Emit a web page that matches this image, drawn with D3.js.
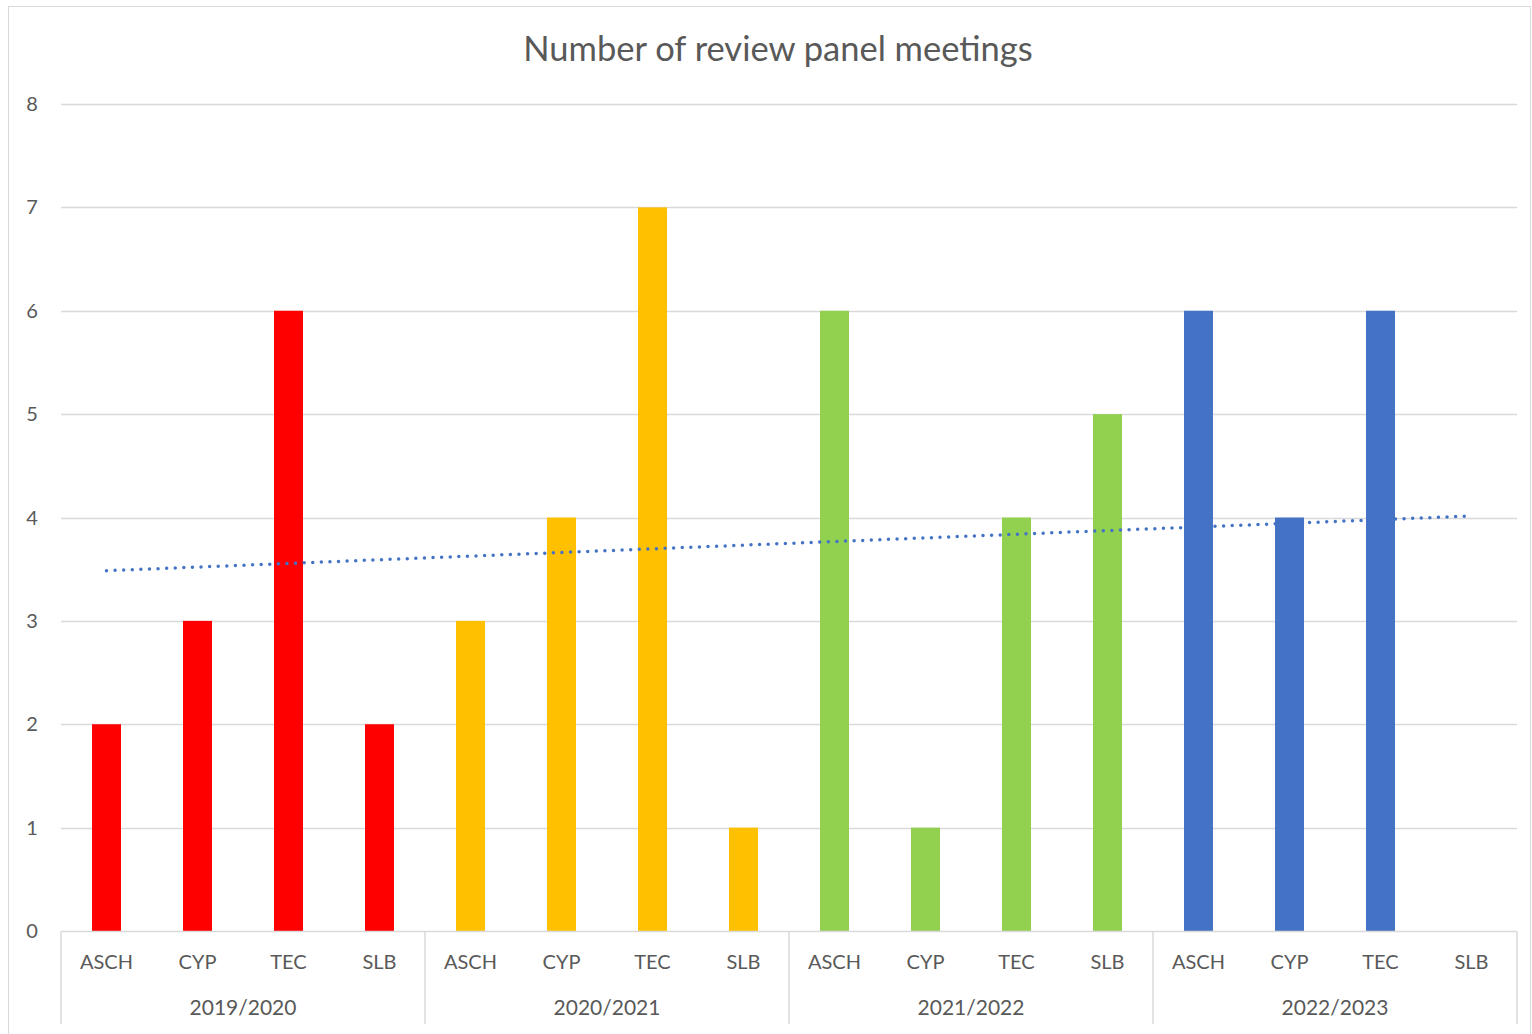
<!DOCTYPE html>
<html>
<head>
<meta charset="utf-8">
<script src="https://cdn.jsdelivr.net/npm/d3@7"></script>
<style>
	body{margin:0;background:#fff;}
	svg text{font-family:Lato, "Open Sans", sans-serif;fill:#595959;}
</style>
</head>
<body>
<svg id="chart"></svg>
<script>
const years = ['2019/2020','2020/2021','2021/2022','2022/2023'];
const units = ['ASCH','CYP','TEC','SLB'];
const yearColors = ['#FF0000','#FFC000','#92D050','#4472C4'];
const meetings2019 = [2,3,6,2];
const meetings2020 = [3,4,7,1];
const meetings2021 = [6,1,4,5];
const meetings2022 = [6,4,6,0];
const yTicks = [0,1,2,3,4,5,6,7,8];

const W = 1532, H = 1034;
const margin = {left:61, right:15, top:104, bottom:103};

const svg = d3.select('#chart').attr('width',W).attr('height',H);

// border
svg.append('rect')
	.attr('x',8.5).attr('y',6.5)
	.attr('width',W-10).attr('height',H)
	.attr('fill','none').attr('stroke','#d9d9d9');

svg.append('text')
	.attr('x',778).attr('y',61)
	.attr('text-anchor','middle')
	.style('font-size','34.5px')
	.text('Number of review panel meetings');

const allVals = [meetings2019,meetings2020,meetings2021,meetings2022];
const data = [];
allVals.forEach((arr,yi)=>{
	arr.forEach((v,ui)=>{
		data.push({year:years[yi],unit:units[ui],value:v,color:yearColors[yi],key:years[yi]+'|'+units[ui]});
	})
})

const x = d3.scaleBand()
	.domain(data.map(d=>d.key))
	.range([margin.left, W-margin.right]);
const y = d3.scaleLinear()
	.domain([0,8])
	.range([H-margin.bottom, margin.top]);

// gridlines
svg.append('g')
	.selectAll('line')
	.data(yTicks.filter(t=>t>0))
	.join('line')
		.attr('x1',margin.left).attr('x2',W-margin.right)
		.attr('y1',d=>Math.round(y(d))+0.5).attr('y2',d=>Math.round(y(d))+0.5)
		.attr('stroke','#d9d9d9').attr('stroke-width',1.5);

svg.append('g')
	.selectAll('text')
	.data(yTicks)
	.join('text')
		.attr('x',32).attr('y',d=>y(d)+7)
		.attr('text-anchor','middle')
		.style('font-size','20px')
		.text(d=>d);

// bars
const barW = 29;
svg.append('g')
	.selectAll('rect')
	.data(data)
	.join('rect')
		.attr('x',d=>x(d.key)+x.bandwidth()/2-barW/2)
		.attr('y',d=>y(d.value))
		.attr('width',barW)
		.attr('height',d=>y(0)-y(d.value))
		.attr('fill',d=>d.color);

// category axis
const y0 = Math.round(y(0))+0.5;
svg.append('line')
	.attr('x1',margin.left).attr('x2',W-margin.right)
	.attr('y1',y0).attr('y2',y0)
	.attr('stroke','#d9d9d9').attr('stroke-width',1.5);

const groupW = x.bandwidth()*units.length;
svg.append('g')
	.selectAll('line')
	.data(d3.range(years.length+1))
	.join('line')
		.attr('x1',i=>margin.left+i*groupW).attr('x2',i=>margin.left+i*groupW)
		.attr('y1',y0).attr('y2',1024)
		.attr('stroke','#d9d9d9').attr('stroke-width',1.5);

svg.append('g')
	.selectAll('text')
	.data(data)
	.join('text')
		.attr('x',d=>x(d.key)+x.bandwidth()/2)
		.attr('y',969)
		.attr('text-anchor','middle')
		.style('font-size','20px')
		.text(d=>d.unit);

svg.append('g')
	.selectAll('text')
	.data(years)
	.join('text')
		.attr('x',(d,i)=>margin.left+i*groupW+groupW/2)
		.attr('y',1015)
		.attr('text-anchor','middle')
		.style('font-size','21px')
		.text(d=>d);

// linear trendline
const n = data.length;
const xs = d3.range(1,n+1);
const mx = d3.mean(xs), my = d3.mean(data,d=>d.value);
const sxy = d3.sum(data,(d,i)=>(xs[i]-mx)*(d.value-my));
const sxx = d3.sum(xs,v=>(v-mx)*(v-mx));
const slope = sxy/sxx, icpt = my - slope*mx;
const trend = [data[0],data[n-1]].map((d,j)=>{
	const xi = j==0 ? 1 : n;
	return [x(d.key)+x.bandwidth()/2, y(icpt+slope*xi)];
});
svg.append('path')
	.attr('d',d3.line()(trend))
	.attr('fill','none')
	.attr('stroke','#4472C4')
	.attr('stroke-width',3.5)
	.attr('stroke-linecap','round')
	.attr('stroke-dasharray','0,8.6');
</script>
</body>
</html>
